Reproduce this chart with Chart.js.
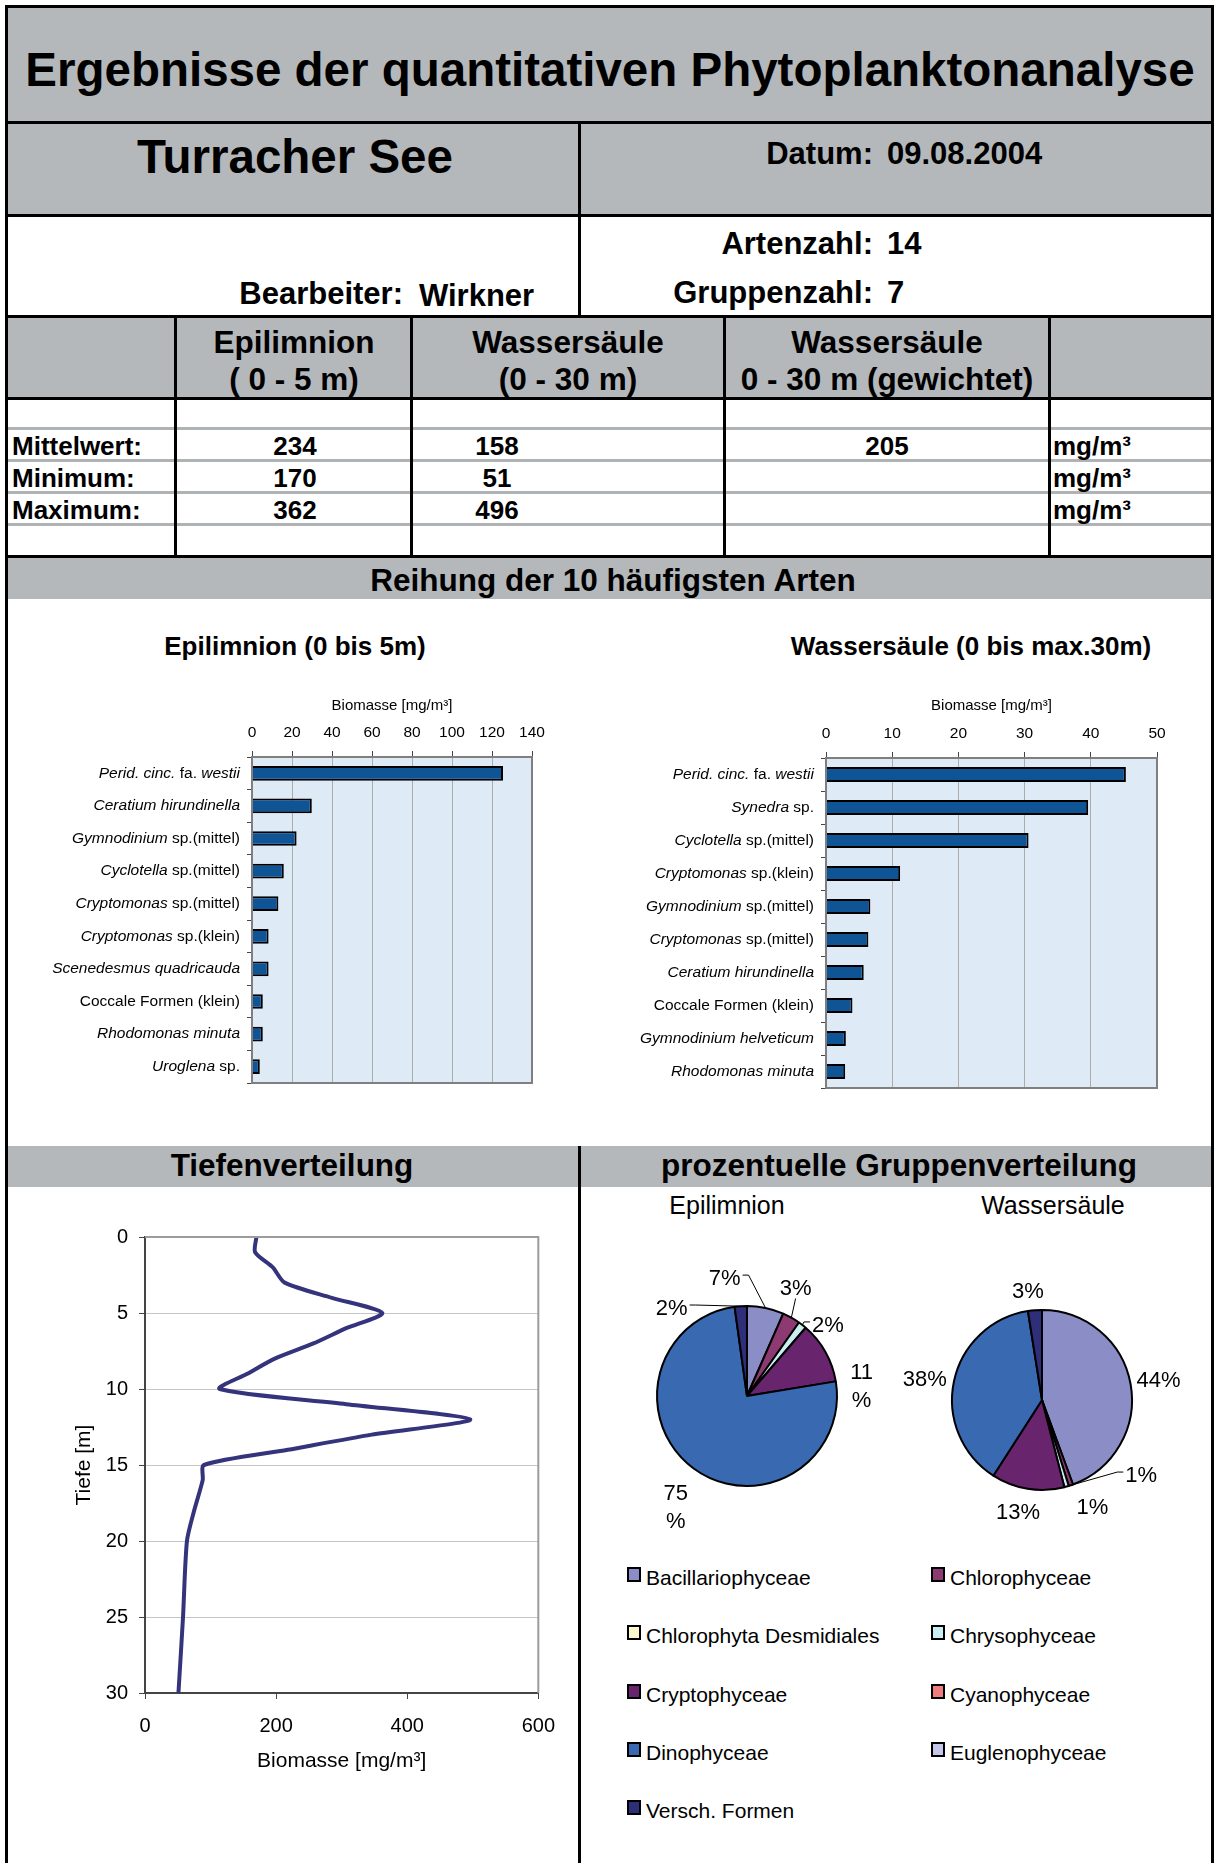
<!DOCTYPE html>
<html>
<head>
<meta charset="utf-8">
<script src="https://cdn.jsdelivr.net/npm/chart.js@4.4.1/dist/chart.umd.min.js"></script>
<style>
body { margin: 0; background: #fff; }
#page { position: relative; width: 1216px; height: 1863px; overflow: hidden; font-family: "Liberation Sans", Arial, sans-serif; color: #000; }
.g { position: absolute; background: #b5b8bb; }
.k { position: absolute; background: #000; }
.lg { position: absolute; background: #b0b3b6; height: 3px; left: 8px; width: 1203px; }
.t { position: absolute; white-space: nowrap; line-height: 1; }
.b { font-weight: bold; }
.c { width: 1200px; text-align: center; }
.r { width: 600px; text-align: right; }
canvas { position: absolute; }
.item { position: absolute; white-space: nowrap; font-size: 21px; line-height: 1; }
.item span.box { position: absolute; left: 0; top: 0; width: 10px; height: 11px; border: 2px solid #000; }
.item span.txt { position: absolute; left: 19px; top: 0; }
</style>
</head>
<body>
<div id="page">
  <!-- grey bands -->
  <div class="g" style="left:8px;top:8px;width:1203px;height:114px"></div>
  <div class="g" style="left:8px;top:124px;width:1203px;height:91px"></div>
  <div class="g" style="left:8px;top:318px;width:1203px;height:80px"></div>
  <div class="g" style="left:8px;top:558px;width:1203px;height:41px"></div>
  <div class="g" style="left:8px;top:1146px;width:1203px;height:41px"></div>

  <!-- light grey row lines -->
  <div class="lg" style="top:427px"></div>
  <div class="lg" style="top:459px"></div>
  <div class="lg" style="top:491px"></div>
  <div class="lg" style="top:523px"></div>

  <!-- black frame lines -->
  <div class="k" style="left:5px;top:5px;width:1209px;height:3px"></div>
  <div class="k" style="left:5px;top:5px;width:3px;height:1858px"></div>
  <div class="k" style="left:1211px;top:5px;width:3px;height:1858px"></div>
  <div class="k" style="left:5px;top:121px;width:1209px;height:3px"></div>
  <div class="k" style="left:5px;top:214px;width:1209px;height:3px"></div>
  <div class="k" style="left:5px;top:315px;width:1209px;height:3px"></div>
  <div class="k" style="left:5px;top:397px;width:1209px;height:3px"></div>
  <div class="k" style="left:5px;top:555px;width:1209px;height:3px"></div>
  <div class="k" style="left:578px;top:121px;width:3px;height:196px"></div>
  <div class="k" style="left:174px;top:315px;width:3px;height:242px"></div>
  <div class="k" style="left:410px;top:315px;width:3px;height:242px"></div>
  <div class="k" style="left:723px;top:315px;width:3px;height:242px"></div>
  <div class="k" style="left:1048px;top:315px;width:3px;height:242px"></div>
  <div class="k" style="left:578px;top:1146px;width:3px;height:717px"></div>

  <!-- header texts -->
  <div class="t b c" style="font-size:47.5px;left:10px;top:46px">Ergebnisse der quantitativen Phytoplanktonanalyse</div>
  <div class="t b c" style="font-size:47.5px;left:-305px;top:133px">Turracher See</div>
  <div class="t b r" style="font-size:31px;left:273px;top:138px">Datum:</div>
  <div class="t b" style="font-size:31px;left:887px;top:138px">09.08.2004</div>
  <div class="t b r" style="font-size:31px;left:273px;top:228px">Artenzahl:</div>
  <div class="t b" style="font-size:31px;left:887px;top:228px">14</div>
  <div class="t b r" style="font-size:31px;left:273px;top:277px">Gruppenzahl:</div>
  <div class="t b" style="font-size:31px;left:887px;top:277px">7</div>
  <div class="t b r" style="font-size:31px;left:-197px;top:278px">Bearbeiter:</div>
  <div class="t b" style="font-size:31px;left:419px;top:280px">Wirkner</div>

  <div class="t b c" style="font-size:31.5px;left:-306px;top:327px">Epilimnion</div>
  <div class="t b c" style="font-size:31.5px;left:-306px;top:364px">( 0 - 5 m)</div>
  <div class="t b c" style="font-size:31.5px;left:-32px;top:327px">Wassersäule</div>
  <div class="t b c" style="font-size:31.5px;left:-32px;top:364px">(0 - 30 m)</div>
  <div class="t b c" style="font-size:31.5px;left:287px;top:327px">Wassersäule</div>
  <div class="t b c" style="font-size:31.5px;left:287px;top:364px">0 - 30 m (gewichtet)</div>

  <div class="t b" style="font-size:26px;left:12px;top:433px">Mittelwert:</div>
  <div class="t b c" style="font-size:26px;left:-305px;top:433px">234</div>
  <div class="t b c" style="font-size:26px;left:-103px;top:433px">158</div>
  <div class="t b c" style="font-size:26px;left:287px;top:433px">205</div>
  <div class="t b" style="font-size:26px;left:1053px;top:433px">mg/m³</div>
  <div class="t b" style="font-size:26px;left:12px;top:465px">Minimum:</div>
  <div class="t b c" style="font-size:26px;left:-305px;top:465px">170</div>
  <div class="t b c" style="font-size:26px;left:-103px;top:465px">51</div>
  <div class="t b" style="font-size:26px;left:1053px;top:465px">mg/m³</div>
  <div class="t b" style="font-size:26px;left:12px;top:497px">Maximum:</div>
  <div class="t b c" style="font-size:26px;left:-305px;top:497px">362</div>
  <div class="t b c" style="font-size:26px;left:-103px;top:497px">496</div>
  <div class="t b" style="font-size:26px;left:1053px;top:497px">mg/m³</div>

  <div class="t b c" style="font-size:31.5px;left:13px;top:565px">Reihung der 10 häufigsten Arten</div>
  <div class="t b c" style="font-size:26px;left:-305px;top:633px">Epilimnion (0 bis 5m)</div>
  <div class="t b c" style="font-size:26px;left:371px;top:633px">Wassersäule (0 bis max.30m)</div>

  <div class="t b c" style="font-size:31.5px;left:-308px;top:1150px">Tiefenverteilung</div>
  <div class="t b c" style="font-size:31.5px;left:299px;top:1150px">prozentuelle Gruppenverteilung</div>
  <div class="t c" style="font-size:25px;left:127px;top:1193px">Epilimnion</div>
  <div class="t c" style="font-size:25px;left:453px;top:1193px">Wassersäule</div>

  <canvas id="barEpi" width="560" height="420" style="left:10px;top:690px"></canvas>
  <canvas id="barWs" width="600" height="420" style="left:590px;top:690px"></canvas>
  <canvas id="depth" width="560" height="610" style="left:10px;top:1195px"></canvas>
  <canvas id="pieEpi" width="280" height="300" style="left:607px;top:1246px"></canvas>
  <canvas id="pieWs" width="300" height="300" style="left:892px;top:1250px"></canvas>

  <div id="legend" style="position:absolute;left:627px;top:1567px"></div>
</div>

<script>
// --- data ---
// species names, *...* marks the italic part
var epiSpecies = ['*Perid. cinc.* fa. *westii*', '*Ceratium hirundinella*', '*Gymnodinium* sp.(mittel)', '*Cyclotella* sp.(mittel)',
  '*Cryptomonas* sp.(mittel)', '*Cryptomonas* sp.(klein)', '*Scenedesmus quadricauda*', 'Coccale Formen (klein)',
  '*Rhodomonas minuta*', '*Uroglena* sp.'];
var epiBiomass = [125.5, 29.9, 22.3, 15.9, 13.2, 8.3, 8.3, 5.4, 5.4, 3.9];

var wsSpecies = ['*Perid. cinc.* fa. *westii*', '*Synedra* sp.', '*Cyclotella* sp.(mittel)', '*Cryptomonas* sp.(klein)',
  '*Gymnodinium* sp.(mittel)', '*Cryptomonas* sp.(mittel)', '*Ceratium hirundinella*', 'Coccale Formen (klein)',
  '*Gymnodinium helveticum*', '*Rhodomonas minuta*'];
var wsBiomass = [45.3, 39.6, 30.6, 11.2, 6.7, 6.4, 5.7, 4.0, 3.0, 2.9];

var depths = [0, 1, 2, 3, 4, 5, 6, 7, 8, 9, 10, 11, 12, 13, 14, 15, 16, 18, 20, 25, 30];
var depthBiomass = [170, 168, 195, 213, 285, 362, 307, 257, 198, 156, 114, 307, 496, 346, 218, 90, 88, 75, 64, 58, 51];

var groups = ['Bacillariophyceae', 'Chlorophyceae', 'Chlorophyta Desmidiales', 'Chrysophyceae', 'Cryptophyceae',
  'Cyanophyceae', 'Dinophyceae', 'Euglenophyceae', 'Versch. Formen'];
var groupColors = ['#8b8dc6', '#8e3a72', '#fbf9cc', '#caeef2', '#68246c', '#ef7d7d', '#3969b1', '#c6c6e8', '#2f2e78'];
var epiShare = [6.6, 3.2, 0, 1.5, 11.1, 0, 75.4, 0, 2.2];
var wsShare = [44.4, 0.8, 0, 0.8, 13.1, 0, 38.4, 0, 2.5];

Chart.defaults.font.family = '"Liberation Sans", Arial, sans-serif';
Chart.defaults.color = '#000';

// plot background + frame
var plotFrame = {
  id: 'plotFrame',
  beforeDraw: function(chart, args, o) {
    if (!o.bg) return;
    var a = chart.chartArea, ctx = chart.ctx;
    ctx.save();
    ctx.fillStyle = o.bg;
    ctx.fillRect(a.left, a.top, a.right - a.left, a.bottom - a.top);
    ctx.restore();
  },
  afterDatasetsDraw: function(chart, args, o) {
    var a = chart.chartArea, ctx = chart.ctx;
    ctx.save();
    ctx.strokeStyle = o.color;
    ctx.lineWidth = o.width;
    ctx.beginPath();
    if (o.sides == 'tr') {
      ctx.moveTo(a.left, a.top); ctx.lineTo(a.right, a.top); ctx.lineTo(a.right, a.bottom);
    } else {
      ctx.rect(a.left, a.top, a.right - a.left, a.bottom - a.top);
    }
    ctx.stroke();
    ctx.restore();
  }
};

// category labels with italic genus names
var richLabels = {
  id: 'richLabels',
  afterDraw: function(chart) {
    var ys = chart.scales.y, ctx = chart.ctx;
    var fam = '"Liberation Sans", Arial, sans-serif';
    ctx.save();
    ctx.textBaseline = 'middle';
    ctx.textAlign = 'left';
    ctx.fillStyle = '#000';
    chart.data.labels.forEach(function(lab, i) {
      var segs = lab.split('*').map(function(s, k) {
        return { text: s, font: (k % 2 ? 'italic ' : '') + '15.5px ' + fam };
      }).filter(function(s) { return s.text.length; });
      var total = 0;
      segs.forEach(function(s) { ctx.font = s.font; s.w = ctx.measureText(s.text).width; total += s.w; });
      var x = chart.chartArea.left - 12 - total;
      var y = ys.getPixelForTick(i);
      segs.forEach(function(s) { ctx.font = s.font; ctx.fillText(s.text, x, y); x += s.w; });
    });
    ctx.restore();
  }
};

function barChart(id, labels, values, max, step, yWidth, xHeight, pad) {
  return new Chart(document.getElementById(id), {
    type: 'bar',
    data: {
      labels: labels,
      datasets: [{
        data: values,
        backgroundColor: '#0f5596',
        borderColor: '#000',
        borderWidth: 2,
        barPercentage: 0.45,
        categoryPercentage: 1
      }]
    },
    options: {
      indexAxis: 'y',
      responsive: false,
      animation: false,
      layout: { padding: pad },
      plugins: {
        legend: { display: false },
        tooltip: { enabled: false },
        plotFrame: { bg: '#deebf7', color: '#7f7f7f', width: 2 }
      },
      scales: {
        x: {
          position: 'top',
          min: 0, max: max,
          ticks: { stepSize: step, font: { size: 15.5 }, padding: 9 },
          grid: { color: '#acacac', tickColor: '#444', tickLength: 6 },
          border: { display: false },
          title: { display: true, text: 'Biomasse [mg/m³]', font: { size: 15 }, padding: { top: 7, bottom: 0 } },
          afterFit: function(s) { s.height = xHeight; }
        },
        y: {
          ticks: { display: false },
          grid: { offset: true, drawOnChartArea: false, tickLength: 5, tickColor: '#444' },
          border: { display: false },
          afterFit: function(s) { s.width = yWidth; }
        }
      }
    },
    plugins: [plotFrame, richLabels]
  });
}

barChart('barEpi', epiSpecies, epiBiomass, 140, 20, 242, 67, { left: 0, right: 38, top: 0, bottom: 27 });
barChart('barWs', wsSpecies, wsBiomass, 50, 10, 236, 68, { left: 0, right: 33, top: 0, bottom: 22 });

// depth profile
new Chart(document.getElementById('depth'), {
  type: 'scatter',
  data: {
    datasets: [{
      data: depths.map(function(d, i) { return { x: depthBiomass[i], y: d }; }),
      showLine: true,
      borderColor: '#34337c',
      borderWidth: 4,
      pointRadius: 0,
      tension: 0.25
    }]
  },
  options: {
    responsive: false,
    animation: false,
    layout: { padding: { left: 0, right: 29, top: 42, bottom: 12 } },
    plugins: {
      legend: { display: false },
      tooltip: { enabled: false },
      plotFrame: { color: '#9c9c9c', width: 2, sides: 'tr' }
    },
    scales: {
      x: {
        min: 0, max: 600,
        ticks: { stepSize: 200, font: { size: 20 }, padding: 15 },
        grid: { drawOnChartArea: false, tickLength: 6, tickColor: '#444' },
        border: { color: '#444', width: 2 },
        title: { display: true, text: 'Biomasse [mg/m³]', font: { size: 21 }, padding: { top: 0, bottom: 19 } },
        afterFit: function(s) { s.height = 100; }
      },
      y: {
        reverse: true,
        min: 0, max: 30,
        ticks: { stepSize: 5, font: { size: 20 }, padding: 11 },
        grid: { color: '#c6c6c6', tickLength: 6, tickColor: '#444' },
        border: { color: '#444', width: 2 },
        title: { display: true, text: 'Tiefe [m]', font: { size: 21 }, padding: { top: 62, bottom: 0 } },
        afterFit: function(s) { s.width = 135; }
      }
    }
  },
  plugins: [plotFrame]
});

// percent labels outside the pies, excel style
var pieLabels = {
  id: 'pieLabels',
  afterDatasetsDraw: function(chart, args, o) {
    var meta = chart.getDatasetMeta(0), ctx = chart.ctx;
    var vals = chart.data.datasets[0].data;
    ctx.save();
    ctx.font = '22px "Liberation Sans", Arial, sans-serif';
    ctx.fillStyle = '#000';
    ctx.strokeStyle = '#000';
    ctx.lineWidth = 1;
    ctx.textAlign = 'center';
    ctx.textBaseline = 'middle';
    meta.data.forEach(function(arc, i) {
      var p = o.place[i];
      if (!vals[i] || !p) return;
      var m0 = (arc.startAngle + arc.endAngle) / 2;
      var m = m0 + p.da * Math.PI / 180;
      var lx = arc.x + Math.cos(m) * p.r, ly = arc.y + Math.sin(m) * p.r;
      var n = Math.round(vals[i]);
      var txt = n + '%';
      if (p.wrap) {
        ctx.fillText(String(n), lx, ly - 14);
        ctx.fillText('%', lx, ly + 14);
      } else {
        ctx.fillText(txt, lx, ly);
      }
      if (p.leader) {
        var ex = arc.x + Math.cos(m0) * arc.outerRadius, ey = arc.y + Math.sin(m0) * arc.outerRadius;
        var w = ctx.measureText(txt).width;
        ctx.beginPath();
        ctx.moveTo(ex, ey);
        if (p.leader == 'v') {
          ctx.lineTo(lx, ly + 10);
        } else {
          var side = ex > lx ? 1 : -1;
          var ax = lx + side * (w / 2 + 2), ay = ly - 4;
          ctx.lineTo(ax + side * 6, ay);
          ctx.lineTo(ax, ay);
        }
        ctx.stroke();
      }
    });
    ctx.restore();
  }
};

function pieChart(id, shares, place) {
  return new Chart(document.getElementById(id), {
    type: 'pie',
    data: {
      labels: groups,
      datasets: [{ data: shares, backgroundColor: groupColors, borderColor: '#000', borderWidth: 2, radius: 90 }]
    },
    options: {
      responsive: false,
      animation: false,
      plugins: { legend: { display: false }, tooltip: { enabled: false }, pieLabels: { place: place } }
    },
    plugins: [pieLabels]
  });
}

pieChart('pieEpi', epiShare, [
  { da: -22.7, r: 119, leader: 's' }, { da: -5.2, r: 118, leader: 'v' }, null, { da: 11.1, r: 107, leader: 's' },
  { da: 24.8, r: 115, wrap: true }, null, { da: -4, r: 133, wrap: true }, null, { da: -36.9, r: 115, leader: 's' }
]);
pieChart('pieWs', wsShare, [
  { da: 1, r: 118 }, { da: -33.8, r: 125, leader: 's' }, null, { da: -9.2, r: 119 },
  { da: 2.8, r: 115 }, null, { da: -2.2, r: 119 }, null, { da: -2.9, r: 109 }
]);

// shared legend for both pies, two columns
var leg = document.getElementById('legend');
groups.forEach(function(g, i) {
  var d = document.createElement('div');
  d.className = 'item';
  d.style.left = (i % 2) * 304 + 'px';
  d.style.top = Math.floor(i / 2) * 58.3 + 'px';
  d.innerHTML = '<span class="box" style="background:' + groupColors[i] + '"></span><span class="txt">' + g + '</span>';
  leg.appendChild(d);
});
</script>
</body>
</html>
